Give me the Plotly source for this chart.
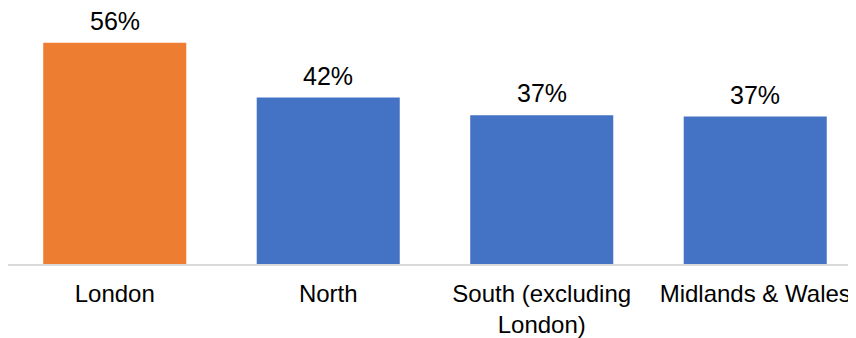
import plotly.graph_objects as go

categories = ["London", "North", "South (excluding<br>London)", "Midlands & Wales"]
values = [56.0, 42.1, 37.6, 37.3]
value_labels = ["56%", "42%", "37%", "37%"]
colors = ["#ED7D31", "#4472C4", "#4472C4", "#4472C4"]

fig = go.Figure()
fig.add_trace(go.Bar(
    x=categories,
    y=values,
    marker=dict(color=colors, line=dict(width=0)),
    hoverinfo="skip",
))

for c, v, t in zip(categories, values, value_labels):
    fig.add_annotation(
        x=c, y=v, text=t, showarrow=False,
        yanchor="bottom", yshift=6,
        font=dict(family="Liberation Sans, Arial, sans-serif", size=25, color="#000000"),
    )

fig.update_layout(
    width=848, height=330,
    margin=dict(l=0, r=0, t=0, b=69),
    paper_bgcolor="white", plot_bgcolor="white",
    bargap=0.33,
    showlegend=False,
    font=dict(family="Liberation Sans, Arial, sans-serif", size=24, color="#000000"),
)
fig.update_xaxes(
    type="category",
    range=[-0.5, 3.472],
    showline=True, linecolor="#D9D9D9", linewidth=2,
    showgrid=False, ticks="",
    tickfont=dict(size=24, color="#000000"),
    ticklabelstandoff=7,
)
fig.update_yaxes(
    range=[0, 64.76],
    visible=False, showgrid=False, zeroline=False,
)

fig.write_html("out.html")
